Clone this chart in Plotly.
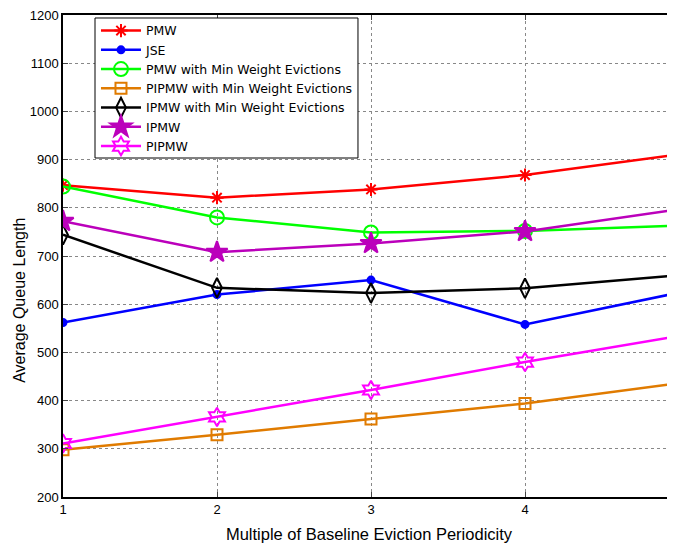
import plotly.graph_objects as go

x_vals = [1, 2, 3, 4, 5]
pmw = [847, 821, 838, 868, 911]
jse = [562, 620, 650, 558, 624]
pmw_minw = [844, 780, 749, 752, 763]
pipmw_minw = [298, 329, 362, 394, 436]
ipmw_minw = [744, 634, 623, 633, 660]
ipmw = [772, 708, 726, 751, 797]
pipmw = [311, 366, 422, 480, 534]
y_ticks = [200, 300, 400, 500, 600, 700, 800, 900, 1000, 1100, 1200]

series = [
    ("PMW", pmw, "#ff0000", "asterisk-open", 11),
    ("JSE", jse, "#0000ff", "circle", 7),
    ("PMW with Min Weight Evictions", pmw_minw, "#00ff00", "circle-open", 14),
    ("PIPMW with Min Weight Evictions", pipmw_minw, "#e07b00", "square-open", 11),
    ("IPMW with Min Weight Evictions", ipmw_minw, "#000000", "diamond-tall-open", 14),
    ("IPMW", ipmw, "#bb00bb", "star", 16),
    ("PIPMW", pipmw, "#ff00ff", "hexagram-open", 14),
]

fig = go.Figure()
for name, ys, col, sym, sz in series:
    fig.add_trace(go.Scatter(
        x=x_vals, y=ys, name=name, mode="lines+markers",
        line=dict(color=col, width=2.5),
        marker=dict(symbol=sym, size=sz, color=col, line=dict(color=col, width=2)),
    ))

fig.add_annotation(x=5, y=0, xref="x", yref="paper", text="5", showarrow=False,
                   yanchor="top", yshift=-6, font=dict(size=13, color="black"))
fig.add_annotation(x=-0.0703, y=0.409, xref="paper", yref="paper",
                   text="Average Queue Length", textangle=-90, showarrow=False,
                   xanchor="center", yanchor="middle", font=dict(size=16, color="black"))

# legend frame
fig.add_shape(type="rect", xref="paper", yref="paper",
              x0=0.0523, x1=0.482, y0=0.7033, y1=0.9938,
              line=dict(color="black", width=1), fillcolor="white", layer="above")

fig.update_layout(
    width=667, height=540,
    margin=dict(l=55, r=0, t=7, b=51),
    paper_bgcolor="white", plot_bgcolor="white",
    font=dict(family="Liberation Sans, Arial, sans-serif", size=13, color="black"),
    legend=dict(x=0.0539, y=0.998, xanchor="left", yanchor="top",
                borderwidth=0, bgcolor="rgba(0,0,0,0)",
                font=dict(size=12.5, family="DejaVu Sans, sans-serif"),
                tracegroupgap=0, itemwidth=40),
    xaxis=dict(range=[1, 4.974], tickvals=x_vals, ticks="inside", ticklen=5,
               showline=True, linecolor="black", linewidth=1.5, mirror="ticks",
               showgrid=True, gridcolor="#888888", griddash="dot", gridwidth=1,
               zeroline=False,
               title=dict(text="Multiple of Baseline Eviction Periodicity", standoff=12,
                          font=dict(size=16.5))),
    yaxis=dict(range=[200, 1200], tickvals=y_ticks, ticks="inside", ticklen=5,
               showline=True, linecolor="black", linewidth=1.5, mirror=False,
               showgrid=True, gridcolor="#888888", griddash="dot", gridwidth=1,
               zeroline=False, ticklabeloverflow="allow"),
)

fig.write_html("out.html")
